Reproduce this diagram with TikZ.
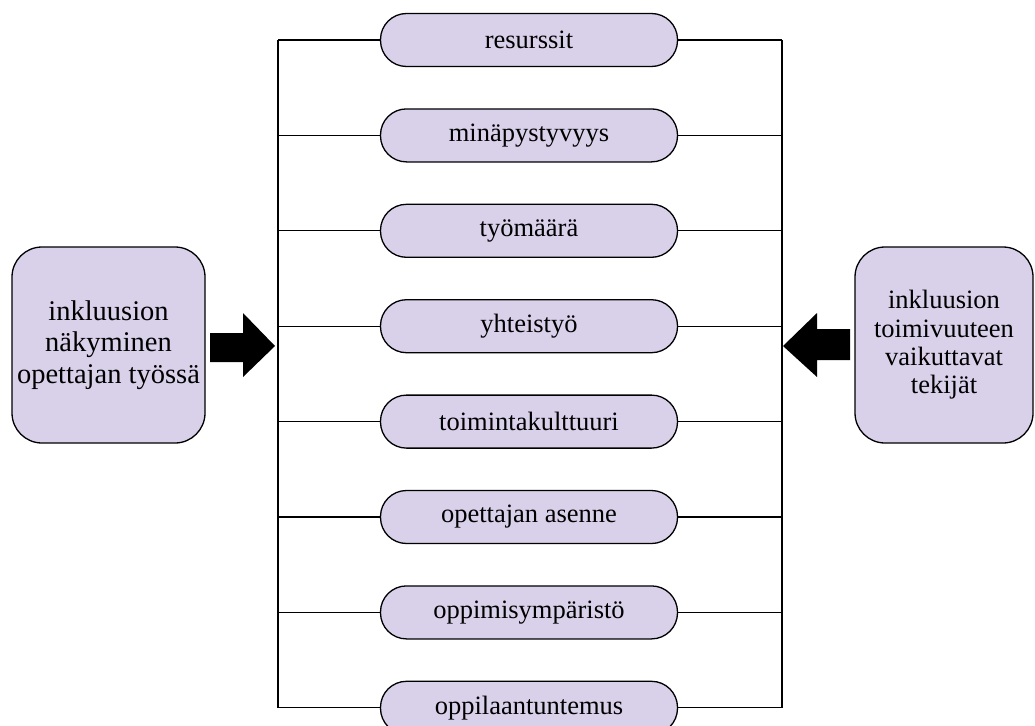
\documentclass[tikz,border=0pt]{standalone}
\usepackage{fontspec}
\setmainfont{Liberation Serif}
\definecolor{lav}{RGB}{217,208,234}
\begin{document}
\begin{tikzpicture}[x=1pt,y=-1pt,
  pill/.style={draw=black,line width=1.3pt,fill=lav,rounded corners=26pt,minimum width=297pt,minimum height=53pt,inner sep=0pt,font=\fontsize{26.5}{28}\selectfont},
  sidebox/.style={draw=black,line width=1.3pt,fill=lav,rounded corners=30pt,inner sep=0pt,align=center},
  conn/.style={line width=1.3pt},
  blockarrow/.style={fill=black,draw=none}]
\useasboundingbox (0,0) rectangle (1035,725);
\foreach \t [count=\i] in {resurssit,minäpystyvyys,työmäärä,yhteistyö,toimintakulttuuri,opettajan asenne,oppimisympäristö,oppilaantuntemus}{
  \node[pill] (p\i) at (529,{40+(\i-1)*95.4}) {\t};
}
\coordinate (L) at (278,0);
\coordinate (R) at (782,0);
\foreach \i in {1,...,8}{
  \draw[conn] (p\i.west) -- (p\i.west -| L);
  \draw[conn] (p\i.east) -- (p\i.east -| R);
}
\draw[conn] (p1.west -| L) -- (p8.west -| L);
\draw[conn] (p1.east -| R) -- (p8.east -| R);
\node[sidebox,minimum width=193pt,minimum height=196pt,font=\fontsize{28.5}{31.7}\selectfont] (lb) at (108.5,345) {inkluusion\\näkyminen\\opettajan työssä};
\node[sidebox,minimum width=178pt,minimum height=196pt,font=\fontsize{26.5}{28.3}\selectfont] (rb) at (944,345) {inkluusion\\toimivuuteen\\vaikuttavat\\tekijät};
\fill[blockarrow] (210,333) -- (243,333) -- (243,313) -- (275,346) -- (243,377) -- (243,362) -- (210,362) -- cycle;
\fill[blockarrow] (850,329) -- (817,329) -- (817,313) -- (783,346) -- (817,377) -- (817,360) -- (850,360) -- cycle;
\end{tikzpicture}
\end{document}
